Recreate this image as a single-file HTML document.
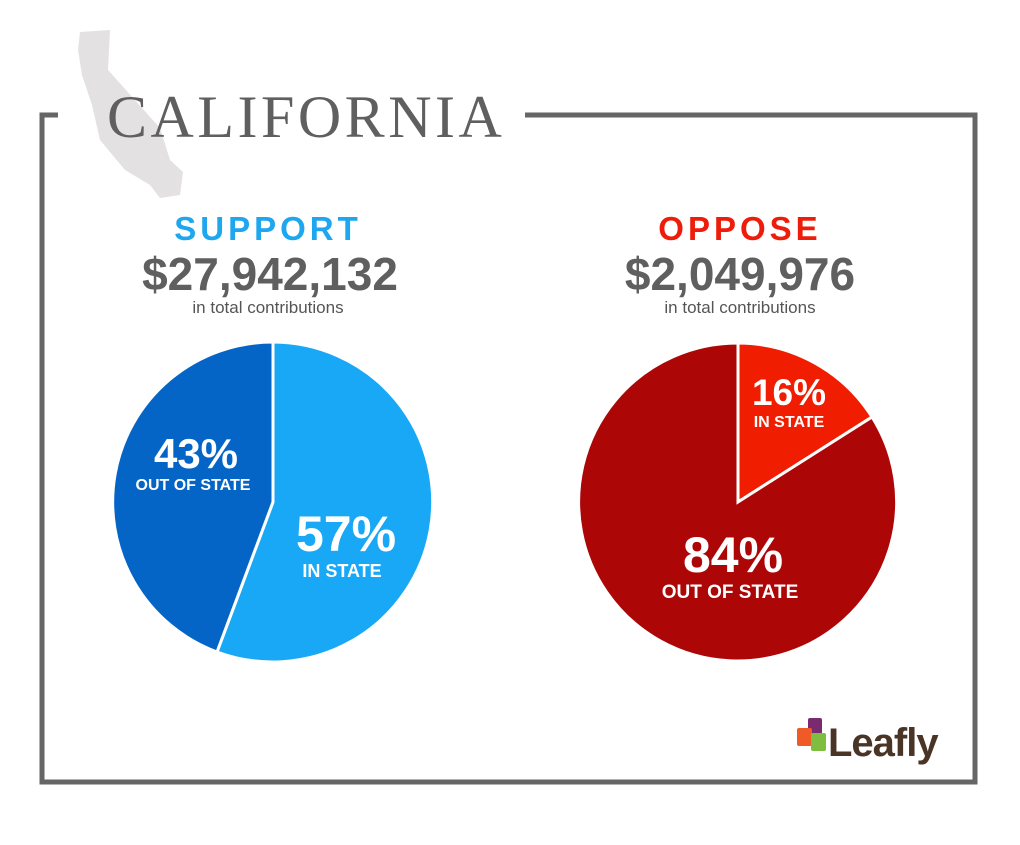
<!DOCTYPE html>
<html><head><meta charset="utf-8"><style>
body{margin:0;width:1020px;height:845px;background:#fff;overflow:hidden;position:relative;font-family:"Liberation Sans",sans-serif}
.t{position:absolute;text-align:center;white-space:nowrap}
</style></head><body>
<svg width="1020" height="845" style="position:absolute;left:0;top:0">
<path d="M80,32 L110,30 L108,70 L160,128 L170,160 L183,172 L180,195 L160,198 L150,185 L125,170 L100,140 L92,105 L82,75 L78,50 Z" fill="#e3e1e1"/>
<path d="M58,115 L42,115 L42,782 L975,782 L975,115 L525,115" fill="none" stroke="#666" stroke-width="5"/>
<text x="107" y="137" font-family="Liberation Serif,serif" font-size="60" fill="#5f5f5f" letter-spacing="3.5">CALIFORNIA</text>
<g stroke="#fff" stroke-width="3">
<path d="M273,502 L273,342 A160,160 0 1,1 217,652 Z" fill="#18a8f6"/>
<path d="M273,502 L217,652 A160,160 0 0,1 273,342 Z" fill="#0565c7"/>
<path d="M738,502 L738,343 A159,159 0 0,1 872,417 Z" fill="#f01d00"/>
<path d="M738,502 L872,417 A159,159 0 1,1 738,343 Z" fill="#ad0607"/>
</g>
<g font-family="Liberation Sans,sans-serif" fill="#fff" text-anchor="middle" font-weight="bold">
<text x="196" y="468" font-size="42">43%</text>
<text x="193" y="490" font-size="16">OUT OF  STATE</text>
<text x="346" y="551" font-size="50">57%</text>
<text x="342" y="577" font-size="18">IN STATE</text>
<text x="789" y="405" font-size="37">16%</text>
<text x="789" y="427" font-size="16">IN STATE</text>
<text x="733" y="572" font-size="50">84%</text>
<text x="730" y="598" font-size="19">OUT OF STATE</text>
</g>
<rect x="808" y="718" width="14" height="16" rx="2" fill="#7a2a6e"/>
<rect x="797" y="728" width="15" height="18" rx="2" fill="#ef5a26"/>
<rect x="811" y="733" width="15" height="18" rx="2" fill="#7cbd42"/>
<text x="828" y="756" font-family="Liberation Sans,sans-serif" font-weight="bold" font-size="40" fill="#4a3426" letter-spacing="-1">Leafly</text>
</svg>
<div class="t" style="left:118px;width:300px;top:210px;font-size:33px;font-weight:bold;color:#1ea6ef;letter-spacing:4px">SUPPORT</div>
<div class="t" style="left:70px;width:400px;top:247px;font-size:46px;font-weight:bold;color:#5f5f5f">$27,942,132</div>
<div class="t" style="left:118px;width:300px;top:298px;font-size:17px;color:#555">in total contributions</div>
<div class="t" style="left:590px;width:300px;top:210px;font-size:33px;font-weight:bold;color:#ee1c0a;letter-spacing:4px">OPPOSE</div>
<div class="t" style="left:540px;width:400px;top:247px;font-size:46px;font-weight:bold;color:#5f5f5f">$2,049,976</div>
<div class="t" style="left:590px;width:300px;top:298px;font-size:17px;color:#555">in total contributions</div>
</body></html>
